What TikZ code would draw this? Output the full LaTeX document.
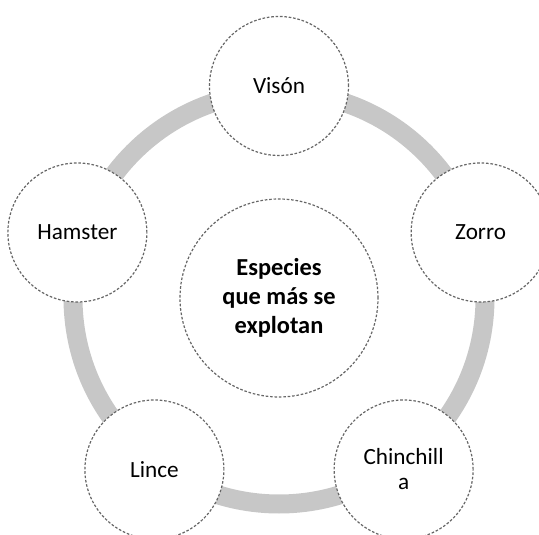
\documentclass[tikz,border=0pt]{standalone}
\usepackage{fontspec}
\setmainfont{Carlito}
\usepackage{tikz}
\usetikzlibrary{positioning, calc}

\tikzset{
    ring/.style={draw=black!22, line width=9.5pt},
    animal/.style={circle, draw=black!60, fill=white, line width=0.6pt,
        dash pattern=on 1.3pt off 0.9pt, minimum size=69.5pt, inner sep=1pt,
        align=center, font=\fontsize{11.6}{12.5}\selectfont},
    hub/.style={animal, minimum size=99pt,
        font=\fontsize{12.2}{14.5}\selectfont\bfseries}
}

\begin{document}
\begin{tikzpicture}[x=1pt, y=1pt]
        \useasboundingbox (0,0) rectangle (269.5,267);
        \coordinate (c) at (139.5,118);
        % Ring behind the circles
        \draw[ring] (c) circle[radius=103pt];
        % Centre
        \node[hub] (especies) at (c) {Especies\\que más se\\explotan};
        % Animals round the ring
        \node[animal] (vison) at ($(c)+(90:106)$) {Visón};
        \node[animal] (zorro) at ($(c)+(18:106)$) {Zorro};
        \node[animal] (chinchilla) at ($(c)+(-54:106)$) {Chinchill\\a};
        \node[animal] (lince) at ($(c)+(-126:106)$) {Lince};
        \node[animal] (hamster) at ($(c)+(162:106)$) {Hamster};
\end{tikzpicture}
\end{document}
